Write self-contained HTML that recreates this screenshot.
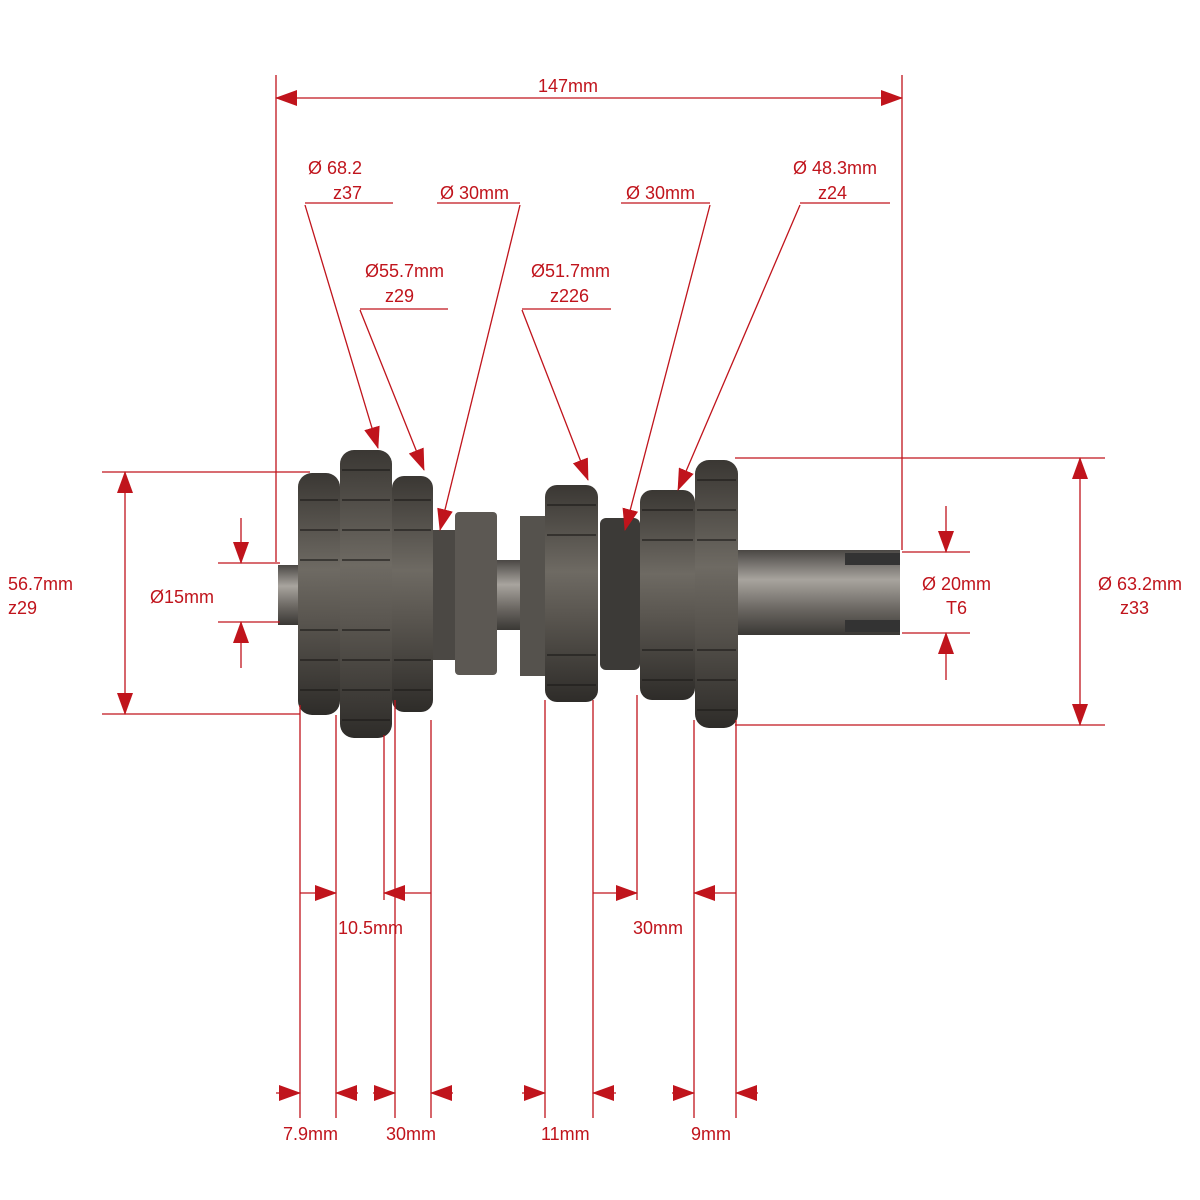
<!DOCTYPE html>
<html><head><meta charset="utf-8"><style>
html,body{margin:0;padding:0;background:#fff;}
svg{display:block}
text{font-family:"Liberation Sans",sans-serif;font-size:18px;fill:#c0141c;}
</style></head><body>
<svg width="1200" height="1200" viewBox="0 0 1200 1200" xmlns="http://www.w3.org/2000/svg">
<defs>
<marker id="b" markerWidth="22" markerHeight="16" refX="21" refY="8" orient="auto-start-reverse" markerUnits="userSpaceOnUse"><path d="M0,0 L22,8 L0,16z" fill="#c0141c"/></marker>
<linearGradient id="g" x1="0" y1="0" x2="0" y2="1"><stop offset="0" stop-color="#3a3733"/><stop offset="0.4" stop-color="#6e6a63"/><stop offset="0.6" stop-color="#5a5650"/><stop offset="1" stop-color="#2e2c29"/></linearGradient>
<linearGradient id="s" x1="0" y1="0" x2="0" y2="1"><stop offset="0" stop-color="#4a4744"/><stop offset="0.35" stop-color="#a8a49e"/><stop offset="0.7" stop-color="#6a6661"/><stop offset="1" stop-color="#3a3835"/></linearGradient>
</defs>
<rect x="278" y="565" width="30" height="60" fill="url(#s)"/>
<rect x="430" y="560" width="130" height="70" fill="url(#s)"/>
<rect x="738" y="550" width="162" height="85" fill="url(#s)"/>
<rect x="845" y="553" width="55" height="12" fill="#333"/>
<rect x="845" y="620" width="55" height="12" fill="#333"/>
<rect x="298" y="473" width="42" height="242" rx="14" fill="url(#g)"/>
<rect x="340" y="450" width="52" height="288" rx="14" fill="url(#g)"/>
<rect x="392" y="476" width="41" height="236" rx="12" fill="url(#g)"/>
<rect x="433" y="530" width="22" height="130" fill="#4b4844"/>
<rect x="455" y="512" width="42" height="163" rx="4" fill="#5c5853"/>
<rect x="520" y="516" width="25" height="160" fill="#55524d"/>
<rect x="545" y="485" width="53" height="217" rx="12" fill="url(#g)"/>
<rect x="600" y="518" width="40" height="152" rx="6" fill="#3c3a37"/>
<rect x="640" y="490" width="55" height="210" rx="12" fill="url(#g)"/>
<rect x="695" y="460" width="43" height="268" rx="14" fill="url(#g)"/>
<g stroke="#1e1c1a" stroke-width="2" opacity="0.6">
<path d="M300 500H338M300 530H338M300 560H338M300 630H338M300 660H338M300 690H338"/>
<path d="M342 470H390M342 500H390M342 530H390M342 560H390M342 630H390M342 660H390M342 690H390M342 720H390"/>
<path d="M394 500H431M394 530H431M394 660H431M394 690H431"/>
<path d="M547 505H596M547 535H596M547 655H596M547 685H596"/>
<path d="M642 510H693M642 540H693M642 650H693M642 680H693"/>
<path d="M697 480H736M697 510H736M697 540H736M697 650H736M697 680H736M697 710H736"/>
</g>
<g stroke="#c0141c" stroke-width="1.3" fill="none">
<path d="M276 75V562M902 75V550"/>
<path d="M276 98H902" marker-start="url(#b)" marker-end="url(#b)"/>
<path d="M305 203H393M437 203H520M360 309H448M522 309H611M621 203H710M800 203H890"/>
<path d="M305 205L378 448" marker-end="url(#b)"/>
<path d="M520 205L440 530" marker-end="url(#b)"/>
<path d="M360 310L424 470" marker-end="url(#b)"/>
<path d="M522 310L588 480" marker-end="url(#b)"/>
<path d="M710 205L625 530" marker-end="url(#b)"/>
<path d="M800 205L678 490" marker-end="url(#b)"/>
<path d="M102 472H310M102 714H300"/>
<path d="M125 600V472" marker-end="url(#b)"/>
<path d="M125 600V714" marker-end="url(#b)"/>
<path d="M218 563H280M218 622H280"/>
<path d="M241 518V563" marker-end="url(#b)"/>
<path d="M241 668V622" marker-end="url(#b)"/>
<path d="M902 552H970M902 633H970"/>
<path d="M946 506V552" marker-end="url(#b)"/>
<path d="M946 680V633" marker-end="url(#b)"/>
<path d="M735 458H1105M735 725H1105"/>
<path d="M1080 590V458" marker-end="url(#b)"/>
<path d="M1080 590V725" marker-end="url(#b)"/>
<path d="M300 705V1118M336 715V1118M384 735V900M395 700V1118M431 720V1118M545 700V1118M593 700V1118M637 695V900M694 720V1118M736 720V1118"/>
<path d="M300 893H336" marker-end="url(#b)"/>
<path d="M431 893H384" marker-end="url(#b)"/>
<path d="M593 893H637" marker-end="url(#b)"/>
<path d="M736 893H694" marker-end="url(#b)"/>
<path d="M276 1093H300" marker-end="url(#b)"/>
<path d="M358 1093H336" marker-end="url(#b)"/>
<path d="M373 1093H395" marker-end="url(#b)"/>
<path d="M453 1093H431" marker-end="url(#b)"/>
<path d="M522 1093H545" marker-end="url(#b)"/>
<path d="M616 1093H593" marker-end="url(#b)"/>
<path d="M672 1093H694" marker-end="url(#b)"/>
<path d="M758 1093H736" marker-end="url(#b)"/>
</g>
<text x="538" y="92">147mm</text>
<text x="308" y="174">Ø 68.2</text><text x="333" y="199">z37</text>
<text x="440" y="199">Ø 30mm</text>
<text x="365" y="277">Ø55.7mm</text><text x="385" y="302">z29</text>
<text x="531" y="277">Ø51.7mm</text><text x="550" y="302">z226</text>
<text x="626" y="199">Ø  30mm</text>
<text x="793" y="174">Ø 48.3mm</text><text x="818" y="199">z24</text>
<text x="8" y="590">56.7mm</text><text x="8" y="614">z29</text>
<text x="150" y="603">Ø15mm</text>
<text x="922" y="590">Ø 20mm</text><text x="946" y="614">T6</text>
<text x="1098" y="590">Ø 63.2mm</text><text x="1120" y="614">z33</text>
<text x="338" y="934">10.5mm</text>
<text x="633" y="934">30mm</text>
<text x="283" y="1140">7.9mm</text>
<text x="386" y="1140">30mm</text>
<text x="541" y="1140">11mm</text>
<text x="691" y="1140">9mm</text>
</svg>
</body></html>
